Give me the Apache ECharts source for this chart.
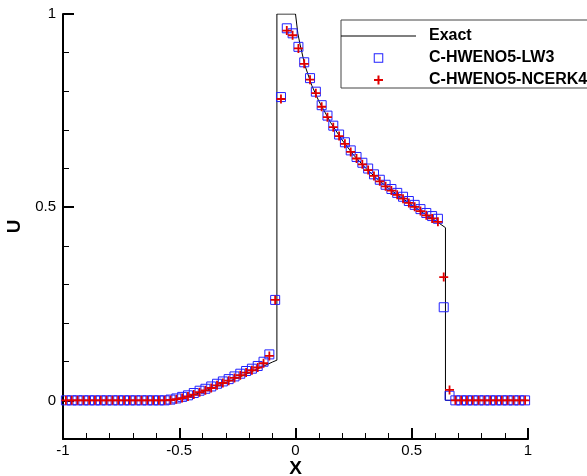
<!DOCTYPE html>
<html>
<head>
<meta charset="utf-8">
<script src="https://cdn.jsdelivr.net/npm/echarts@6/dist/echarts.min.js"></script>
<style>
html,body{margin:0;padding:0;background:#fff;}
#chart{width:587px;height:476px;}
</style>
</head>
<body>
<div id="chart"></div>
<script>
// ---- data ----
var cellX = [-0.9875,-0.9625,-0.9375,-0.9125,-0.8875,-0.8625,-0.8375,-0.8125,-0.7875,-0.7625,
  -0.7375,-0.7125,-0.6875,-0.6625,-0.6375,-0.6125,-0.5875,-0.5625,-0.5375,-0.5125,
  -0.4875,-0.4625,-0.4375,-0.4125,-0.3875,-0.3625,-0.3375,-0.3125,-0.2875,-0.2625,
  -0.2375,-0.2125,-0.1875,-0.1625,-0.1375,-0.1125,-0.0875,-0.0625,-0.0375,-0.0125,
  0.0125,0.0375,0.0625,0.0875,0.1125,0.1375,0.1625,0.1875,0.2125,0.2375,
  0.2625,0.2875,0.3125,0.3375,0.3625,0.3875,0.4125,0.4375,0.4625,0.4875,
  0.5125,0.5375,0.5625,0.5875,0.6125,0.6375,0.6625,0.6875,0.7125,0.7375,
  0.7625,0.7875,0.8125,0.8375,0.8625,0.8875,0.9125,0.9375,0.9625,0.9875];

var uNCERK4 = [0,0,0,0,0,0,0,0,0,0,
  0,0,0,0,0,0,0,0,0.001,0.003,
  0.006,0.010,0.015,0.021,0.026,0.032,0.039,0.045,0.051,0.058,
  0.065,0.072,0.078,0.085,0.096,0.115,0.26,0.78,0.957,0.945,
  0.911,0.871,0.830,0.795,0.760,0.733,0.707,0.684,0.664,0.643,
  0.626,0.611,0.596,0.581,0.567,0.554,0.543,0.532,0.522,0.511,
  0.501,0.490,0.479,0.471,0.462,0.319,0.027,0,0,0,
  0,0,0,0,0,0,0,0,0,0];

var uLW3 = [0,0,0,0,0,0,0,0,0,0,
  0,0,0,0,0,0,0,0,0.002,0.005,
  0.009,0.013,0.019,0.025,0.030,0.036,0.043,0.049,0.055,0.062,
  0.069,0.076,0.082,0.089,0.100,0.119,0.26,0.785,0.963,0.950,
  0.915,0.875,0.834,0.799,0.764,0.737,0.711,0.688,0.668,0.647,
  0.630,0.615,0.600,0.585,0.571,0.558,0.547,0.537,0.527,0.516,
  0.506,0.495,0.485,0.477,0.470,0.241,0.012,0,0,0,
  0,0,0,0,0,0,0,0,0,0];

var exactX = [-1,-0.55,-0.5,-0.45,-0.4,-0.35,-0.3,-0.25,-0.2,-0.15,-0.1,-0.08,-0.08,0,
  0.01,0.02,0.04,0.07,0.1,0.15,0.2,0.25,0.3,0.35,0.4,0.45,0.5,0.55,0.6,0.645,0.645,1];
var exactU = [0,0,0.005,0.012,0.022,0.033,0.046,0.058,0.071,0.085,0.099,0.104,1,1,
  0.95,0.92,0.868,0.815,0.775,0.72,0.674,0.635,0.602,0.574,0.549,0.527,0.506,0.485,0.466,0.447,0,0];

var xTicks = [-1,-0.5,0,0.5,1];
var yMajorTicks = [0,0.5,1];
var yMinorTicks = [0.1,0.2,0.3,0.4,0.6,0.7,0.8,0.9];
var seriesNames = ['Exact','C-HWENO5-LW3','C-HWENO5-NCERK4'];

function zip(a,b){var r=[];for(var i=0;i<a.length;i++){r.push([a[i],b[i]]);}return r;}

var FONT = "'Liberation Sans', Arial, Helvetica, sans-serif";
var plusPath = 'path://M4 0H6V4H10V6H6V10H4V6H0V4H4Z';
var legendLine = 'path://M0 0L0.001 0L0 0.001Z M75 10L74.999 10L75 9.999Z M0 4.5H75V5.5H0Z';
var legendSquare = 'path://M0 0L0.001 0L0 0.001Z M75 10L74.999 10L75 9.999Z M32.75 0.25H42.25V9.75H32.75Z M33.75 1.25V8.75H41.25V1.25Z';
var legendPlus = 'path://M0 0L0.001 0L0 0.001Z M75 10L74.999 10L75 9.999Z M36.5 0.5H38.5V4H42V6H38.5V9.5H36.5V6H33V4H36.5Z';

var chart = echarts.init(document.getElementById('chart'), null, {renderer:'canvas'});
chart.setOption({
  backgroundColor:'#fff',
  animation:false,
  textStyle:{fontFamily:FONT},
  grid:{left:63, right:59, top:14, bottom:37, containLabel:false, outerBoundsMode:'none'},
  legend:{
    orient:'vertical', left:341, top:20,
    padding:[8,400,0,0],
    itemWidth:75, itemHeight:10, itemGap:6,
    borderColor:'#444', borderWidth:1,
    backgroundColor:'#fff',
    selectedMode:false,
    textStyle:{fontFamily:FONT, fontSize:16, fontWeight:'bold', color:'#000', lineHeight:14, padding:[0,0,0,8]},
    data:[
      {name:seriesNames[0], icon:legendLine, itemStyle:{color:'#000', borderWidth:0}},
      {name:seriesNames[1], icon:legendSquare, itemStyle:{color:'#2020ff', borderWidth:0}},
      {name:seriesNames[2], icon:legendPlus, itemStyle:{color:'#e00000', borderWidth:0}}
    ]
  },
  xAxis:{
    type:'value', min:-1, max:1, interval:0.5,
    name:'X', nameLocation:'middle', nameGap:20, nameMoveOverlap:false,
    nameTextStyle:{fontFamily:FONT, fontSize:19, fontWeight:'bold', color:'#000', verticalAlign:'top'},
    axisLine:{show:true, onZero:false, lineStyle:{color:'#000', width:2}},
    axisTick:{show:true, inside:true, length:11, lineStyle:{color:'#000', width:2}},
    minorTick:{show:true, splitNumber:5, length:6, lineStyle:{color:'#000', width:1}},
    axisLabel:{fontFamily:FONT, fontSize:15, color:'#000', margin:4,
      customValues:xTicks, formatter:function(v){return String(v);}},
    splitLine:{show:false}, minorSplitLine:{show:false}
  },
  yAxis:[{
    type:'value', min:-0.1, max:1,
    name:'U', nameLocation:'middle', nameGap:39, nameRotate:90, nameMoveOverlap:false,
    nameTextStyle:{fontFamily:FONT, fontSize:19, fontWeight:'bold', color:'#000'},
    axisLine:{show:true, onZero:false, lineStyle:{color:'#000', width:2}},
    axisTick:{show:true, inside:true, length:11, customValues:yMajorTicks, lineStyle:{color:'#000', width:2}},
    axisLabel:{fontFamily:FONT, fontSize:15, color:'#000', margin:7, customValues:yMajorTicks,
      formatter:function(v){return String(v);}},
    splitLine:{show:false}
  },{
    type:'value', min:-0.1, max:1, position:'left', offset:0,
    axisLine:{show:false, onZero:false},
    axisTick:{show:true, inside:true, length:6, customValues:yMinorTicks, lineStyle:{color:'#000', width:1}},
    axisLabel:{show:false},
    splitLine:{show:false}
  }],
  series:[{
    name:seriesNames[0], type:'line', data:zip(exactX, exactU),
    symbol:'none', showSymbol:false, clip:true, z:1,
    lineStyle:{color:'#000', width:1}, itemStyle:{color:'#000'}
  },{
    name:seriesNames[1], type:'scatter', data:zip(cellX, uLW3),
    symbol:'rect', symbolSize:9, z:2,
    itemStyle:{color:'rgba(0,0,0,0)', borderColor:'#2020ff', borderWidth:1, opacity:1}
  },{
    name:seriesNames[2], type:'scatter', data:zip(cellX, uNCERK4),
    symbol:plusPath, symbolSize:9, z:3,
    itemStyle:{color:'#e00000', opacity:1}
  }]
});
</script>
</body>
</html>
